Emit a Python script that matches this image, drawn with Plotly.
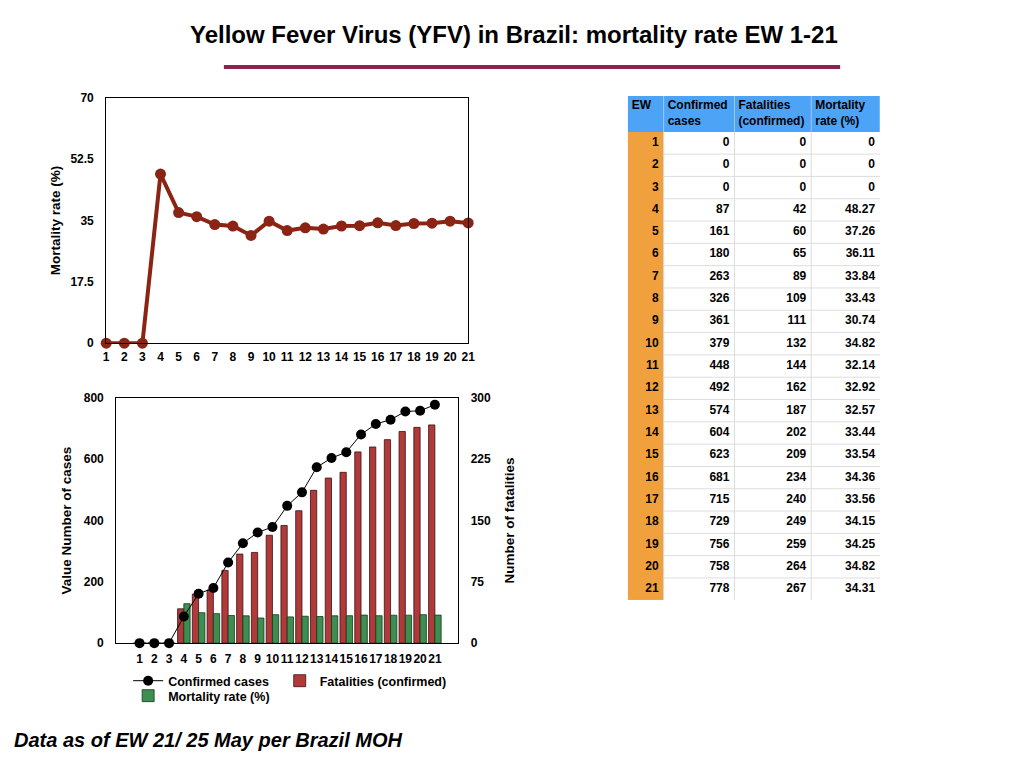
import plotly.graph_objects as go

ew = list(range(1, 22))
confirmed = [0, 0, 0, 87, 161, 180, 263, 326, 361, 379, 448, 492, 574, 604, 623, 681, 715, 729, 756, 758, 778]
fatalities = [0, 0, 0, 42, 60, 65, 89, 109, 111, 132, 144, 162, 187, 202, 209, 234, 240, 249, 259, 264, 267]
mortality = [0, 0, 0, 48.27, 37.26, 36.11, 33.84, 33.43, 30.74, 34.82, 32.14, 32.92, 32.57, 33.44, 33.54,
             34.36, 33.56, 34.15, 34.25, 34.82, 34.31]
mortality_text = ["0", "0", "0", "48.27", "37.26", "36.11", "33.84", "33.43", "30.74", "34.82", "32.14",
                  "32.92", "32.57", "33.44", "33.54", "34.36", "33.56", "34.15", "34.25", "34.82", "34.31"]
table_headers = ["EW", "Confirmed<br>cases", "Fatalities<br>(confirmed)", "Mortality<br>rate (%)"]
top_y_ticks = [0, 17.5, 35, 52.5, 70]
top_y_labels = ["0", "17.5", "35", "52.5", "70"]
cases_ticks = [0, 200, 400, 600, 800]
fatal_ticks = [0, 75, 150, 225, 300]

W, H = 1024, 768
KX, KY = 0.993, 0.985  # compensation for the capture's slight shrink
def px(x): return ((x - 1.5) / KX) / W
def py(y): return 1 - (H / 2 + (y - H / 2) / KY) / H

FONT = "Liberation Sans, Arial, Helvetica, sans-serif"
LINE_RED = "#8B2414"
BAR_RED = "#B03A3A"
BAR_GREEN = "#3E8E52"
BLUE = "#4DA3F5"
ORANGE = "#F0A03C"

fig = go.Figure()

# ---- Top chart: mortality rate line
fig.add_trace(go.Scatter(
    x=ew, y=mortality, mode="lines+markers",
    line=dict(color=LINE_RED, width=4),
    marker=dict(color=LINE_RED, size=11),
    cliponaxis=False, showlegend=False, hoverinfo="skip",
    xaxis="x", yaxis="y"))

# ---- Bottom chart: bars (right axis scale) and confirmed line (left axis scale)
cats = [str(e) for e in ew]
fig.add_trace(go.Bar(
    x=cats, y=fatalities, name="Fatalities (confirmed)",
    marker=dict(color=BAR_RED, line=dict(color="#3a1010", width=0.8)),
    xaxis="x2", yaxis="y3", legend="legend3"))
fig.add_trace(go.Bar(
    x=cats, y=mortality, name="Mortality rate (%)",
    marker=dict(color=BAR_GREEN, line=dict(color="#123a1a", width=0.8)),
    xaxis="x2", yaxis="y3", legend="legend2"))
fig.add_trace(go.Scatter(
    x=cats, y=confirmed, mode="lines+markers", name="Confirmed cases",
    line=dict(color="black", width=1),
    marker=dict(color="black", size=10),
    cliponaxis=False,
    xaxis="x2", yaxis="y4", legend="legend"))

# ---- Table drawn as a heatmap grid with text
col_widths = [36, 71, 77, 69]
header_h, row_h = 36, 22.4
x_edges = [0]
for w in col_widths:
    x_edges.append(x_edges[-1] + w)
y_edges = [0, header_h] + [header_h + row_h * (i + 1) for i in range(len(ew))]
z = [[0, 0, 0, 0]] + [[1, 2, 2, 2] for _ in ew]
fig.add_trace(go.Heatmap(
    x=x_edges, y=y_edges, z=z, zmin=0, zmax=2,
    colorscale=[[0, BLUE], [0.5, ORANGE], [1, "white"]],
    showscale=False, hoverinfo="skip", xaxis="x3", yaxis="y5"))

row_centers = [(y_edges[i + 1] + y_edges[i + 2]) / 2 for i in range(len(ew))]
cell_cols = [[str(e) for e in ew], [str(c) for c in confirmed], [str(f) for f in fatalities], mortality_text]
cx, cy, ct = [], [], []
for j, col in enumerate(cell_cols):
    for i, t in enumerate(col):
        cx.append(x_edges[j + 1] - 5)
        cy.append(row_centers[i])
        ct.append(t)
fig.add_trace(go.Scatter(
    x=cx, y=cy, text=ct, mode="text", textposition="middle left",
    textfont=dict(family=FONT, size=12, color="black", weight="bold"),
    showlegend=False, hoverinfo="skip", cliponaxis=False, xaxis="x3", yaxis="y5"))
hx = [x_edges[j] + 4 for j in range(4)]
hy = [10 if "<br>" not in h else header_h / 2 for h in table_headers]
fig.add_trace(go.Scatter(
    x=hx, y=hy, text=table_headers, mode="text", textposition="middle right",
    textfont=dict(family=FONT, size=12, color="black", weight="bold"),
    showlegend=False, hoverinfo="skip", cliponaxis=False, xaxis="x3", yaxis="y5"))

shapes = [dict(type="line", xref="paper", yref="paper", x0=px(223), x1=px(841),
               y0=py(66), y1=py(66), line=dict(color="#8B2252", width=4))]
for xe in x_edges[1:-1]:
    shapes.append(dict(type="line", xref="x3", yref="y5", x0=xe, x1=xe, y0=header_h, y1=y_edges[-1],
                       line=dict(color="#dddddd", width=1)))
    shapes.append(dict(type="line", xref="x3", yref="y5", x0=xe, x1=xe, y0=0, y1=header_h,
                       line=dict(color="#9ccaf8", width=1)))
for ye in y_edges[2:-1]:
    shapes.append(dict(type="line", xref="x3", yref="y5", x0=x_edges[1], x1=x_edges[-1], y0=ye, y1=ye,
                       line=dict(color="#dddddd", width=1)))

tickf = dict(family=FONT, size=12, color="black", weight="bold")
axis_common = dict(showgrid=False, zeroline=False, showline=True, linecolor="black",
                   linewidth=1, tickfont=tickf, ticks="outside", tickcolor="rgba(0,0,0,0)")
titlef = dict(family=FONT, size=13.5, color="black", weight="bold")
legf = dict(family=FONT, size=12.5, color="black", weight="bold")

fig.update_layout(
    width=W, height=H, margin=dict(l=0, r=0, t=0, b=0),
    paper_bgcolor="white", plot_bgcolor="white",
    font=dict(family=FONT, color="black"),
    barmode="group", bargap=0.15, bargroupgap=0,
    xaxis=dict(domain=[px(105), px(468)], anchor="y", range=[1, 21], tickmode="array",
               tickvals=ew, mirror=True, ticklen=2, **axis_common),
    yaxis=dict(domain=[py(343), py(97)], anchor="x", range=[0, 70], tickmode="array",
               tickvals=top_y_ticks, ticktext=top_y_labels, mirror=True, ticklen=9,
               title=dict(text="Mortality rate (%)", font=titlef, standoff=6),
               **axis_common),
    xaxis2=dict(domain=[px(115), px(458)], anchor="y3", type="category", mirror=True,
                tickangle=0, ticklen=4, **axis_common),
    yaxis3=dict(domain=[py(644), py(398)], anchor="x2", side="right", range=[0, 300],
                tickmode="array", tickvals=fatal_ticks, ticklen=9,
                title=dict(text="Number of fatalities", font=titlef, standoff=14),
                **axis_common),
    yaxis4=dict(overlaying="y3", anchor="x2", side="left", range=[0, 800],
                tickmode="array", tickvals=cases_ticks, ticklen=9,
                title=dict(text="Value Number of cases", font=titlef, standoff=9),
                **axis_common),
    xaxis3=dict(domain=[px(628), px(881)], anchor="y5", range=[x_edges[0], x_edges[-1]],
                visible=False, fixedrange=True),
    yaxis5=dict(domain=[py(601), py(95)], anchor="x3", range=[y_edges[-1], y_edges[0]],
                visible=False, fixedrange=True),
    legend=dict(orientation="h", x=px(127), y=py(667), xanchor="left", yanchor="top",
                font=legf, bgcolor="rgba(0,0,0,0)", itemwidth=30),
    legend3=dict(orientation="h", x=px(279), y=py(667), xanchor="left", yanchor="top",
                 font=legf, bgcolor="rgba(0,0,0,0)", itemwidth=30),
    legend2=dict(orientation="h", x=px(127), y=py(682), xanchor="left", yanchor="top",
                 font=legf, bgcolor="rgba(0,0,0,0)", itemwidth=30),
    shapes=shapes,
    annotations=[
        dict(text="<b>Yellow Fever Virus (YFV) in Brazil: mortality rate EW 1-21</b>",
             xref="paper", yref="paper", x=px(514), y=py(33), showarrow=False,
             xanchor="center", yanchor="middle",
             font=dict(family="Liberation Sans Narrow, Arial Narrow, " + FONT, size=24, color="black")),
        dict(text="<b><i>Data as of EW 21/ 25 May per Brazil MOH</i></b>",
             xref="paper", yref="paper", x=px(11), y=py(741), showarrow=False,
             xanchor="left", yanchor="middle",
             font=dict(family=FONT, size=20, color="black")),
    ],
)

fig.write_html(
    "out.html",
    config={"displayModeBar": False},
    post_script=("document.documentElement.style.margin='0';"
                 "document.documentElement.style.overflow='hidden';"
                 "document.body.style.margin='0';"
                 "document.body.style.overflow='hidden';"))
